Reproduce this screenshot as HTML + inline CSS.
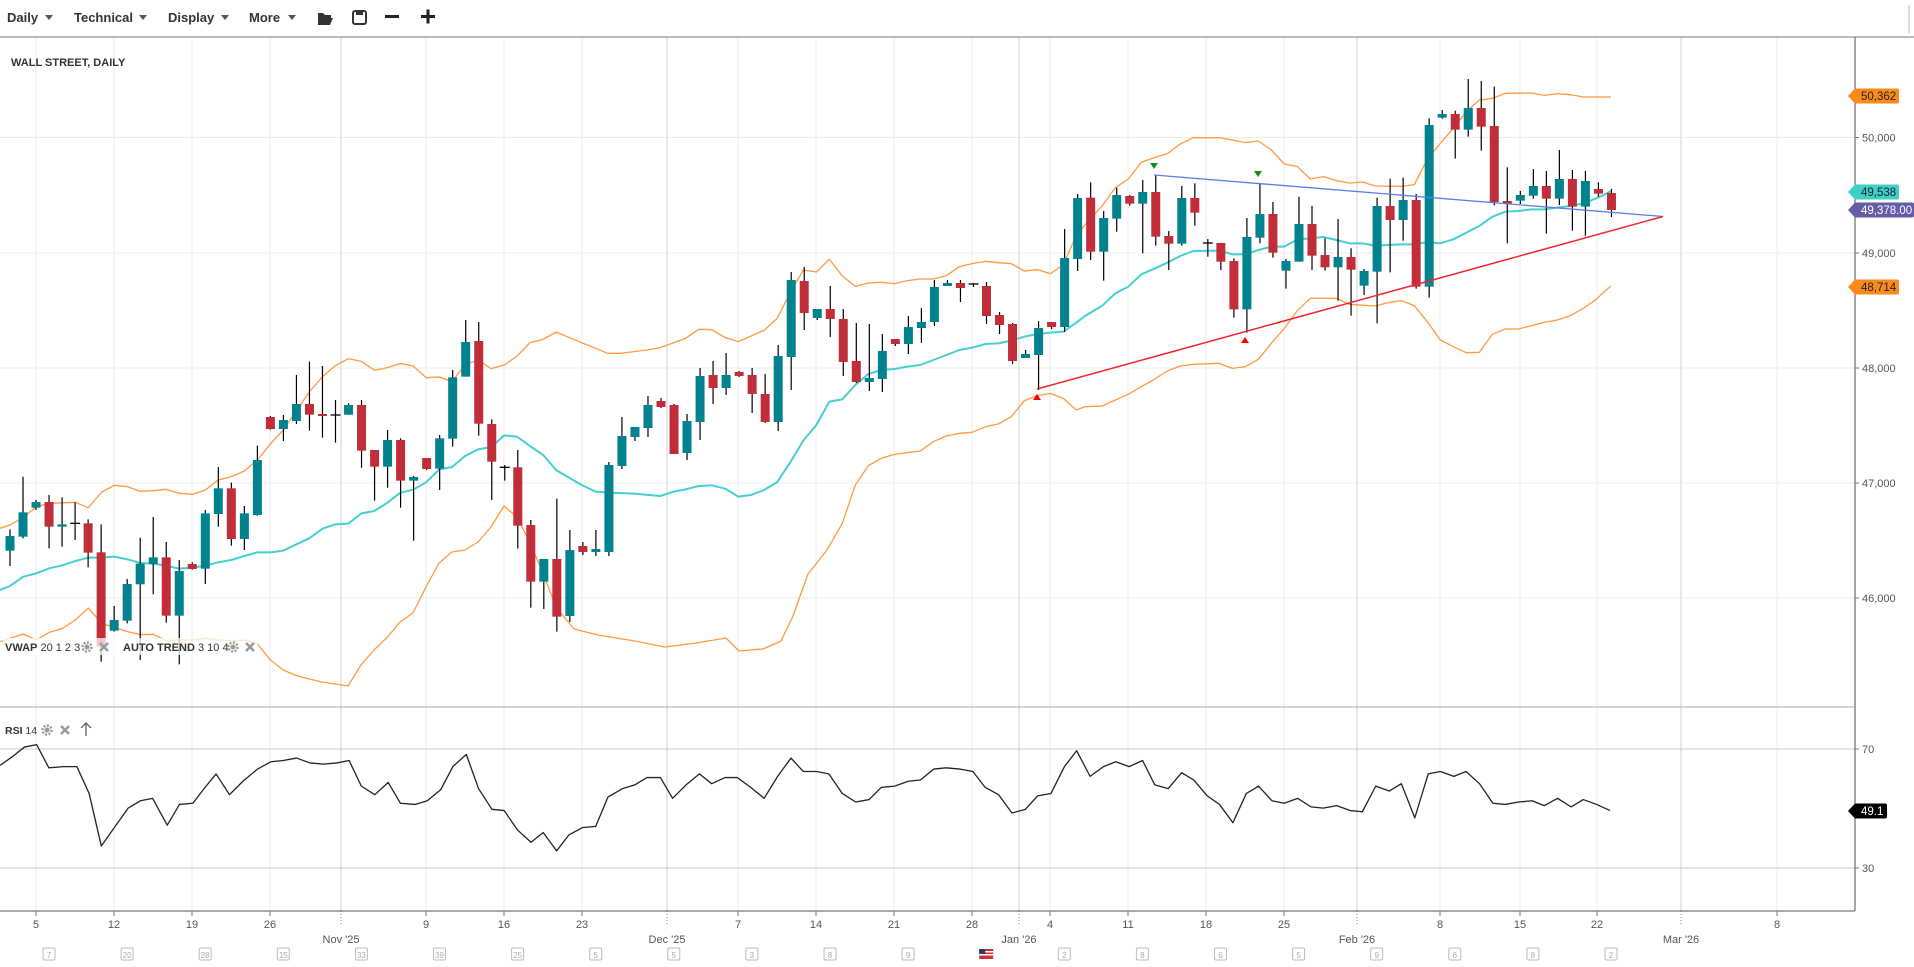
<!DOCTYPE html>
<html><head><meta charset="utf-8">
<style>
html,body{margin:0;padding:0;background:#fff;}
svg{display:block;font-family:"Liberation Sans",sans-serif;}
</style></head>
<body>
<svg id="c" width="1914" height="967" viewBox="0 0 1914 967" xmlns="http://www.w3.org/2000/svg"></svg>
<script>
const S=document.getElementById('c');const NS='http://www.w3.org/2000/svg';
function el(t,a,txt){const e=document.createElementNS(NS,t);for(const k in a)e.setAttribute(k,a[k]);if(txt!==undefined)e.textContent=txt;S.appendChild(e);return e;}
const Z5=(x,y)=>[x/2.8,280+y/3],Z6=(x,y)=>[565+x/3,150+y/3],Z7=(x,y)=>[1085+x/3,60+y/3];
const weeks=[36,114,192,270,426,504,582,738,816,894,972,1050,1128,1206,1284,1440,1520,1597,1777];
const months=[341,667,1019,1357,1681];
weeks.forEach(x=>el('line',{x1:x,y1:37,x2:x,y2:911,stroke:'#ececec','stroke-width':1}));
months.forEach(x=>el('line',{x1:x,y1:37,x2:x,y2:911,stroke:'#d0d0d0','stroke-width':1}));
[137.5,253,368,483,598].forEach(y=>el('line',{x1:0,y1:y,x2:1855,y2:y,stroke:'#ececec'}));
[749,868].forEach(y=>el('line',{x1:0,y1:y,x2:1855,y2:y,stroke:'#c8c8c8'}));
el('line',{x1:0,y1:37,x2:1914,y2:37,stroke:'#777','stroke-width':1});
el('line',{x1:1909,y1:5,x2:1909,y2:33,stroke:'#ddd','stroke-width':2});
[['Daily',7,45],['Technical',74,139],['Display',168,221],['More',249,288]].forEach(([t,x,ax])=>{
 el('text',{x:x,y:22,'font-size':13,'font-weight':'bold',fill:'#333'},t);
 el('path',{d:`M${ax} 15 l8 0 l-4 5 z`,fill:'#555'});
});
el('path',{d:'M318 13 h5 l2 2 h6 v3 h-10 l-3 7 z M318 25 l3 -7 h12 l-3 7 z',fill:'#333'});
el('rect',{x:353,y:11,width:13,height:13,rx:2,fill:'none',stroke:'#333','stroke-width':2});
el('rect',{x:356,y:11,width:7,height:4,fill:'#333'});
el('rect',{x:385,y:15,width:14,height:3,fill:'#222'});
el('rect',{x:421,y:15,width:14,height:3,fill:'#222'});el('rect',{x:426.5,y:9.5,width:3,height:14,fill:'#222'});
el('text',{x:11,y:66,'font-size':11,'font-weight':'bold',fill:'#333'},'WALL STREET, DAILY');
function pl(pts,col,w){el('polyline',{points:pts.map(p=>p.join(',')).join(' '),fill:'none',stroke:col,'stroke-width':w,'stroke-linejoin':'round'});}
const up=[].concat(
 [[0,745],[28,735],[65,712],[102,680],[138,670],[211,667],[247,683],[285,636],[320,616],[357,620],[393,634],[429,632],[466,628],[502,640],[539,643],[575,630],[611,600],[648,590],[684,573],[721,540],[757,492],[793,450],[830,392],[866,336],[903,290],[939,257],[975,236],[1012,244],[1048,271],[1085,263],[1121,250],[1157,258],[1193,293],[1230,291],[1266,305],[1302,254],[1339,240],[1375,266],[1412,255],[1448,228],[1484,188],[1521,178],[1557,156]].map(p=>Z5(...p)),
 [[50,578],[128,610],[165,610],[246,600],[286,593],[362,565],[401,538],[440,539],[481,563],[520,575],[558,558],[597,541],[636,506],[677,425],[715,360],[754,366],[793,328],[832,378],[871,409],[910,399],[949,397],[988,401],[1027,392],[1066,387],[1105,387],[1144,377],[1183,350],[1222,341],[1261,334],[1300,338],[1339,341],[1378,363],[1417,359],[1456,371],[1495,345],[1534,255]].map(p=>Z6(...p)),
 [[0,495],[52,437],[91,383],[130,357],[169,307],[208,293],[247,281],[286,252],[325,233],[403,233],[442,240],[481,248],[520,243],[559,270],[598,312],[637,320],[676,357],[715,350],[754,362],[793,369],[832,366],[871,378],[949,379],[988,374],[1027,298],[1066,250],[1105,205],[1144,155],[1183,120],[1222,115],[1261,100],[1339,99],[1378,106],[1417,101],[1456,104],[1495,111],[1560,111]].map(p=>Z7(...p)),[[1611,97]]);
const lo=[].concat(
 [[0,1085],[28,1075],[65,1062],[102,1080],[138,1057],[175,1045],[211,1020],[247,984],[285,1030],[320,1042],[357,1055],[393,1064],[429,1063],[466,1082],[502,1080],[539,1080],[575,1075],[611,1080],[648,1083],[684,1080],[721,1092],[757,1140],[793,1170],[830,1187],[866,1197]].map(p=>Z5(...p)),
 [[322,682],[348,686],[361,665],[374,650],[387.5,637],[400,622],[413,613],[426,587],[439,563],[452,552],[465,550],[478,542],[491,527],[504,506],[517,517],[530,543],[543,573],[556,607],[574,629],[598,635],[635,641],[665,647],[696,643],[726,638],[739,651],[763,649],[781,641],[793,616],[808,574],[827,550]],
 [[832,1120],[871,1005],[910,947],[949,925],[988,913],[1027,908],[1066,903],[1105,875],[1144,858],[1183,850],[1222,847],[1261,830],[1300,822],[1339,800],[1378,752],[1417,737],[1456,730],[1495,745],[1534,780]].map(p=>Z6(...p)),
 [[0,1040],[52,1038],[91,1020],[130,1003],[169,980],[208,958],[247,933],[286,918],[325,913],[403,910],[442,925],[481,920],[520,898],[559,850],[598,805],[637,752],[676,715],[754,715],[793,733],[871,738],[910,728],[949,722],[988,737],[1027,785],[1066,840],[1105,860],[1144,878],[1183,877],[1222,823],[1261,807],[1300,807],[1339,797],[1378,787],[1417,780],[1456,767],[1495,745],[1534,718],[1560,693]].map(p=>Z7(...p)),[[1611,286]]);
const ma=[].concat(
 [[0,930],[28,918],[65,890],[102,880],[138,865],[175,856],[211,843],[247,833],[285,833],[320,830],[357,838],[393,849],[429,851],[466,857],[502,866],[539,863],[575,857],[611,847],[648,840],[684,828],[721,817],[757,817],[793,812],[830,793],[866,775],[903,746],[939,733],[975,731],[1012,700],[1048,693],[1085,668],[1121,638],[1157,629],[1193,607],[1230,568],[1266,561],[1302,528],[1339,508],[1375,501],[1412,466],[1448,470],[1484,498],[1521,525],[1557,570]].map(p=>Z5(...p)),
 [[50,1005],[92,1025],[130,1028],[208,1031],[286,1038],[325,1025],[362,1018],[401,1008],[440,1006],[481,1016],[520,1040],[558,1035],[597,1020],[636,997],[677,935],[715,872],[754,825],[793,755],[832,748],[871,705],[910,672],[949,660],[988,657],[1027,650],[1066,645],[1105,630],[1144,615],[1183,600],[1222,593],[1261,582],[1300,580],[1339,572],[1378,560],[1417,552],[1456,548],[1495,545],[1534,518]].map(p=>Z6(...p)),
 [[0,768],[52,737],[91,700],[130,680],[169,643],[208,626],[247,608],[286,588],[325,573],[403,572],[442,583],[481,583],[520,570],[559,560],[598,560],[637,538],[676,535],[715,531],[754,540],[793,550],[832,550],[871,557],[910,555],[949,553],[988,553],[1027,546],[1066,550],[1105,538],[1144,518],[1183,498],[1222,470],[1261,455],[1300,453],[1339,448],[1378,448],[1417,443],[1456,438],[1495,430],[1534,415],[1560,403]].map(p=>Z7(...p)),[[1611,191]]);
const cp=document.createElementNS(NS,'clipPath');cp.setAttribute('id','cl');const cr=document.createElementNS(NS,'rect');
cr.setAttribute('x',0);cr.setAttribute('y',38);cr.setAttribute('width',1855);cr.setAttribute('height',668);cp.appendChild(cr);S.appendChild(cp);
const g0=S.children.length;
pl(up,'#ff9a40',1.3);pl(lo,'#ff9a40',1.3);pl(ma,'#45d0cf',2);
const C5=[['g',768,812,748,858],['g',697,770,590,775],['g',666,683,660,690],['r',666,740,645,805],['g',733,740,652,800],['d',730,732,667,780],['r',730,818,718,862],['r',817,1100,733,1145],['g',1020,1052,978,1055],['g',912,1022,897,1030],['g',851,913,773,1140],['g',832,852,711,943],['r',832,1007,786,1028],['g',873,1007,840,1153],['r',852,867,847,869],['g',700,866,690,912],['g',625,702,561,740],['r',625,777,608,797],['g',700,777,678,810],['g',540,705,497,707],['r',411,447,408,449],['g',420,447,405,483],['g',372,423,285,432],['r',372,404,245,452],['r',402,407,258,473],['d',405,407,360,488],['g',375,404,370,405],['r',375,512,360,563],['r',510,560,510,662],['g',480,560,450,623],['r',480,602,475,683],['g',591,602,588,782],['r',534,567,534,570],['g',475,566,465,630],['g',292,476,270,500],['g',186,290,120,290],['r',183,431,126,467],['r',432,545,418,660],['d',562,566,555,602],['r',562,737,510,806],['r',735,905,720,983],['g',837,905,837,987],['r',837,1010,656,1055]];
const CR=[['g',550,616,530,622],['r',546,552,542,555],['g',549,552,530,556],['g',465,552,462,556],['g',436,466,417,469],['g',427,437,427,441],['g',405,428,396,437],['r',401,407,398,408],['r',405,454,404,454],['g',421,453,414,460],['g',376,422,368,440],['r',375,388,361,404],['g',375,388,353,395],['r',372,376,371,377],['r',375,394,368,413],['r',394,422,374,423],['g',356,422,345,431],['g',280,357,272,390],['r',281,313,267,330],['g',309,318,309,320],['r',309,319,286,337],['r',319,362,309,376],['r',361,382,323,383],['g',378,382,324,391],['g',351,379,334,392],['r',339,344,339,346],['g',327,344,316,354],['g',322,328,308,343],['g',287,322,280,326],['g',283,286,280,286],['r',283,288,280,302],['d',284,286,283,287],['r',286,316,282,324],['r',315,325,312,334],['r',324,361,323,364],['g',354,358,350,358],['g',328,355,321,390],['r',322,327,322,329],['g',258,327,229,332],['g',198,259,194,271]];
const C7=[['r',413,575,367,600],['g',474,575,453,662],['g',405,476,383,515],['r',408,431,405,437],['g',396,431,360,580],['r',396,530,345,557],['r',528,551,513,630],['g',414,551,378,557],['r',414,458,370,497],['d',549,551,537,590],['r',549,605,549,630],['r',603,748,595,773],['g',531,748,474,818],['g',462,533,370,550],['r',462,578,426,593],['g',603,632,597,686],['g',492,605,410,605],['r',492,587,438,630],['r',585,622,535,632],['g',591,622,477,722],['r',591,629,565,767],['g',633,677,627,705],['g',438,635,413,790],['r',438,480,356,637],['g',420,480,353,542],['r',420,680,402,686],['g',195,680,175,713],['g',162,173,150,176],['r',162,209,152,296],['g',144,209,57,230],['r',144,200,63,272],['r',198,426,80,436],['r',423,431,322,550],['g',405,422,393,432],['g',378,407,327,416],['r',378,416,333,521],['g',357,416,270,435],['r',357,440,330,512],['g',363,440,333,527],['r',387,401,367,410]];
const all=[];C5.forEach(c=>all.push([c[0],280+c[1]/3,280+c[2]/3,280+c[3]/3,280+c[4]/3]));
CR.forEach(c=>all.push(c));C7.forEach(c=>all.push([c[0],60+c[1]/3,60+c[2]/3,60+c[3]/3,60+c[4]/3]));
all.push(['r',193,210,189,217]);
all.forEach((c,i)=>{const x=10+13.02*i;
 el('line',{x1:x,y1:c[3],x2:x,y2:c[4],stroke:'#000','stroke-width':1.2});
 if(c[0]=='d'){el('line',{x1:x-5,y1:c[1],x2:x+5,y2:c[1],stroke:'#000','stroke-width':1.3});return;}
 const h=Math.max(c[2]-c[1],2);
 el('rect',{x:x-4.5,y:c[1],width:9,height:h,fill:c[0]=='g'?'#00838f':'#c12e3a'});
});
el('line',{x1:1154,y1:175,x2:1663,y2:216.5,stroke:'#5a7de8','stroke-width':1.3});
el('line',{x1:1037,y1:389,x2:1663,y2:216.5,stroke:'#f2242c','stroke-width':1.5});
el('path',{d:'M1150 163 h8 l-4 6 z',fill:'#1a8a1a'});el('path',{d:'M1254 171 h8 l-4 6 z',fill:'#1a8a1a'});
el('path',{d:'M1033 400 h8 l-4 -6 z',fill:'#f00'});el('path',{d:'M1241 343 h8 l-4 -6 z',fill:'#f00'});
const grp=document.createElementNS(NS,'g');grp.setAttribute('clip-path','url(#cl)');
while(S.children.length>g0){grp.appendChild(S.children[g0]);}S.appendChild(grp);
el('rect',{x:3,y:638,width:255,height:17,fill:'#fff','fill-opacity':0.75});
el('text',{x:5,y:651,'font-size':11,fill:'#333'}).innerHTML='<tspan font-weight="bold">VWAP</tspan> 20 1 2 3';
el('text',{x:123,y:651,'font-size':11,fill:'#333'}).innerHTML='<tspan font-weight="bold">AUTO TREND</tspan> 3 10 4';
function gear(x,y){el('circle',{cx:x,cy:y,r:4.5,fill:'none',stroke:'#999','stroke-width':2.5,'stroke-dasharray':'2 1.5'});el('circle',{cx:x,cy:y,r:2.5,fill:'#999'});}
function cross(x,y){el('path',{d:`M${x-4} ${y-4} L${x+4} ${y+4} M${x+4} ${y-4} L${x-4} ${y+4}`,stroke:'#999','stroke-width':2.5});}
gear(87,647);cross(104,647);gear(233,647);cross(250,647);
el('line',{x1:0,y1:707,x2:1855,y2:707,stroke:'#bbb','stroke-width':1.3});
el('text',{x:5,y:734,'font-size':10.5,fill:'#333'}).innerHTML='<tspan font-weight="bold">RSI</tspan> 14';
gear(47,730);cross(65,730);
el('path',{d:'M86 736 V723 M81 728 L86 723 L91 728',stroke:'#555','stroke-width':1.2,fill:'none'});
const r=[[0,627],[10,620],[20,612],[30,610],[40,629],[52,628],[63,628],[73,650],[83,693],[95,676],[105,662],[115,656],[125,654],[137,676],[147,659],[158,658],[168,645],[177,634],[188,651],[199,640],[211,630],[222,624],[232,623],[243,621],[254,625],[265,626],[276,625],[286,623],[296,644],[307,651],[318,641],[328,658],[340,659],[350,656],[361,647],[371,628],[382,618],[392,646],[403,663],[413,664],[424,680],[435,690],[445,682],[456,697],[466,684],[477,678],[488,677],[498,653],[510,646],[520,643],[530,637],[541,637],[551,654],[562,643],[573,634],[583,642],[594,637],[604,637],[615,645],[626,654],[637,636],[648,621],[658,632],[669,632],[679,634],[690,650],[701,657],[712,655],[722,645],[733,644],[744,640],[754,639],[765,630],[775,629],[786,630],[797,632],[807,645],[818,651],[829,666],[840,663],[850,652],[861,650],[872,628],[882,615],[893,636],[904,628],[914,624],[925,628],[936,623],[946,643],[957,646],[968,633],[978,639],[989,652],[999,659],[1010,674],[1021,650],[1031,644],[1042,656],[1052,658],[1063,654],[1074,661],[1084,662],[1095,660],[1106,664],[1116,665],[1127,644],[1138,648],[1148,642],[1159,670],[1170,634],[1180,632],[1191,636],[1201,632],[1212,642],[1223,658],[1233,659],[1244,657],[1255,656],[1265,660],[1276,654],[1287,661],[1297,655],[1308,659],[1319,664]].map(p=>[p[0]*1.2207,p[1]*1.2207]);
pl(r,'#222',1.3);
el('line',{x1:1855,y1:37,x2:1855,y2:911,stroke:'#777','stroke-width':1.3});
el('line',{x1:0,y1:911,x2:1855,y2:911,stroke:'#777','stroke-width':1.3});
[[137.5,'50,000'],[253,'49,000'],[368,'48,000'],[483,'47,000'],[598,'46,000'],[749,'70'],[868,'30']].forEach(([y,t])=>{
 el('line',{x1:1855,y1:y,x2:1859,y2:y,stroke:'#777'});
 el('text',{x:1862,y:y+4,'font-size':11,fill:'#555'},t);});
function tag(y,t,bg,fg,w){el('path',{d:`M1848 ${y} l7 -7.5 h${w} a2 2 0 0 1 2 2 v11 a2 2 0 0 1 -2 2 h-${w} z`,fill:bg});
 el('text',{x:1861,y:y+4,'font-size':11.5,fill:fg},t);}
tag(96,'50,362','#fb8a1c','#222',42);tag(192,'49,538','#3ecfcb','#222',42);tag(210,'49,378.00','#635da8','#fff',57);tag(287,'48,714','#fb8a1c','#222',42);
tag(811,'49.1','#000','#fff',30);
const days=[[36,'5'],[114,'12'],[192,'19'],[270,'26'],[426,'9'],[504,'16'],[582,'23'],[738,'7'],[816,'14'],[894,'21'],[972,'28'],[1050,'4'],[1128,'11'],[1206,'18'],[1284,'25'],[1440,'8'],[1520,'15'],[1597,'22'],[1777,'8']];
days.forEach(([x,t])=>{el('line',{x1:x,y1:911,x2:x,y2:916,stroke:'#777'});el('text',{x:x,y:928,'font-size':11,fill:'#555','text-anchor':'middle'},t);});
[[341,"Nov '25"],[667,"Dec '25"],[1019,"Jan '26"],[1357,"Feb '26"],[1681,"Mar '26"]].forEach(([x,t])=>{
 el('line',{x1:x,y1:911,x2:x,y2:926,stroke:'#888','stroke-dasharray':'1 2'});
 el('text',{x:x,y:943,'font-size':11,fill:'#555','text-anchor':'middle'},t);});
const cal=['7','20','28','15','33','39','25','5','5','3','8','9','F','2','8','6','5','9','6','8','2'];
cal.forEach((t,k)=>{const x=49+78.1*k;
 if(t=='F'){el('rect',{x:x-7,y:949,width:14,height:10,fill:'#c33'});el('rect',{x:x-7,y:951,width:14,height:1.5,fill:'#fff'});el('rect',{x:x-7,y:954,width:14,height:1.5,fill:'#fff'});el('rect',{x:x-7,y:949,width:6,height:5,fill:'#336'});return;}
 el('rect',{x:x-6,y:948,width:12,height:12,rx:1.5,fill:'none',stroke:'#bbb','stroke-width':1});
 el('text',{x:x,y:958,'font-size':8,fill:'#aaa','text-anchor':'middle'},t);});
</script>
</body></html>
